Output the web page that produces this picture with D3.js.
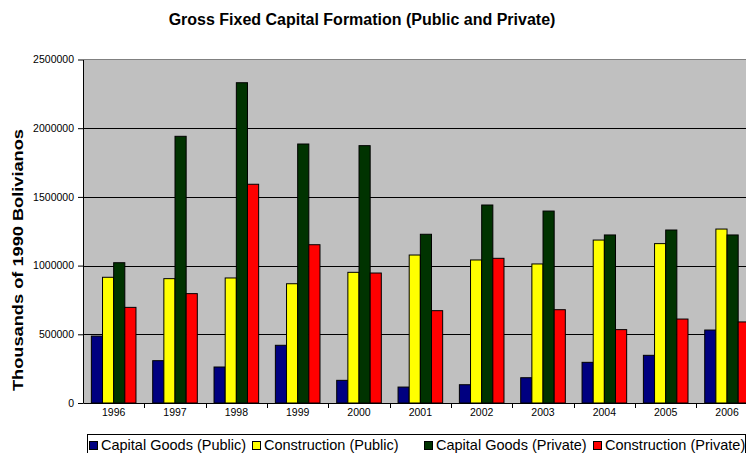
<!DOCTYPE html>
<html><head><meta charset="utf-8">
<script src="https://cdn.jsdelivr.net/npm/d3@7"></script>
<style>
body{margin:0;background:#fff}
svg{display:block}
text{font-family:"Liberation Sans",Arial,Helvetica,sans-serif;fill:#000}
</style>
</head><body>
<svg id="chart" width="746" height="453"></svg>
<script>
const years = ["1996","1997","1998","1999","2000","2001","2002","2003","2004","2005","2006"];
const capitalGoodsPublic   = [487000, 308000, 262000, 420000, 165000, 116000, 133000, 184000, 296000, 347000, 531000];
const constructionPublic   = [915000, 905000, 910000, 868000, 951000, 1077000, 1041000, 1012000, 1186000, 1160000, 1266000];
const capitalGoodsPrivate  = [1021000, 1941000, 2331000, 1885000, 1873000, 1228000, 1441000, 1397000, 1223000, 1259000, 1223000];
const constructionPrivate  = [696000, 796000, 1592000, 1152000, 946000, 672000, 1053000, 679000, 534000, 611000, 590000];
const seriesNames = ["Capital Goods (Public)","Construction (Public)","Capital Goods (Private)","Construction (Private)"];
const seriesColors = ["#000080","#FFFF00","#003300","#FF0000"];
const yTicks = [0,500000,1000000,1500000,2000000,2500000];
const titleText = "Gross Fixed Capital Formation (Public and Private)";
const yAxisTitle = "Thousands of 1990 Bolivianos";

const seriesValues = [capitalGoodsPublic, constructionPublic, capitalGoodsPrivate, constructionPrivate];
const rows = years.map((yr,i)=>({year:yr, vals:seriesNames.map((s,k)=>({key:s, color:seriesColors[k], v:seriesValues[k][i]}))}));

const svg = d3.select("#chart");
const L = 83, R = 757.7, T = 59.5, B = 403;

const x = d3.scaleBand().domain(years).range([L,R]).paddingInner(0).paddingOuter(0);
const x1 = d3.scaleBand().domain(seriesNames).range([0,x.bandwidth()]).paddingInner(0).paddingOuter(0.75);
const y = d3.scaleLinear().domain([0,2500000]).range([B,T]);

// plot background
svg.append("rect").attr("x",L).attr("y",T).attr("width",R-L).attr("height",B-T).attr("fill","#C0C0C0");
// top border
svg.append("line").attr("x1",L).attr("x2",R).attr("y1",T).attr("y2",T).attr("stroke","#808080").attr("stroke-width",1.2);

// gridlines
svg.append("g").selectAll("line").data(yTicks.filter(d=>d>0 && d<2500000)).join("line")
  .attr("x1",L).attr("x2",R).attr("y1",d=>Math.round(y(d))+0.5).attr("y2",d=>Math.round(y(d))+0.5)
  .attr("stroke","#000").attr("stroke-width",1);

// bars
const g = svg.append("g").selectAll("g").data(rows).join("g").attr("transform",d=>`translate(${x(d.year)},0)`);
g.selectAll("rect").data(d=>d.vals).join("rect")
  .attr("x",d=>x1(d.key)).attr("width",x1.bandwidth())
  .attr("y",d=>y(d.v)).attr("height",d=>B-y(d.v))
  .attr("fill",d=>d.color).attr("stroke","#000").attr("stroke-width",1);

// y axis
const yAxis = svg.append("g").attr("transform",`translate(${L},0)`)
  .call(d3.axisLeft(y).tickValues(yTicks).tickSize(5).tickSizeOuter(0).tickPadding(4).tickFormat(d3.format("d")));
yAxis.select(".domain").attr("stroke","#000");
yAxis.selectAll(".tick line").attr("stroke","#000");
yAxis.selectAll("text").attr("font-size","10.5px").attr("font-family","Liberation Sans, Arial, sans-serif");

// x axis
const xAxis = svg.append("g").attr("transform",`translate(0,${B})`)
  .call(d3.axisBottom(x).tickSize(0).tickSizeOuter(0).tickPadding(6));
xAxis.select(".domain").attr("stroke","#000");
xAxis.selectAll("text").attr("font-size","10.5px").attr("font-family","Liberation Sans, Arial, sans-serif");
svg.append("g").selectAll("line").data(years.slice(1)).join("line")
  .attr("x1",d=>Math.round(x(d))+0.5).attr("x2",d=>Math.round(x(d))+0.5).attr("y1",B).attr("y2",B+5).attr("stroke","#000");

// title
svg.append("text").attr("x",362).attr("y",25).attr("text-anchor","middle")
  .attr("font-size","16px").attr("font-weight","bold").text(titleText);

// y axis title
svg.append("text").attr("transform","translate(23,260) rotate(-90)").attr("text-anchor","middle")
  .attr("font-size","14px").attr("font-weight","bold")
  .attr("textLength",262).attr("lengthAdjust","spacingAndGlyphs").text(yAxisTitle);

// legend
const legendX = [89, 252, 424, 593];
const lg = svg.append("g");
lg.append("rect").attr("x",87.5).attr("y",434.5).attr("width",658).attr("height",30).attr("fill","#fff").attr("stroke","#000");
const li = lg.selectAll("g").data(seriesNames).join("g").attr("transform",(d,i)=>`translate(${legendX[i]},0)`);
li.append("rect").attr("x",0.5).attr("y",441.5).attr("width",8).attr("height",8)
  .attr("fill",(d,i)=>seriesColors[i]).attr("stroke","#000");
li.append("text").attr("x",12).attr("y",450).attr("font-size","14.5px").text(d=>d);
</script>
</body></html>
